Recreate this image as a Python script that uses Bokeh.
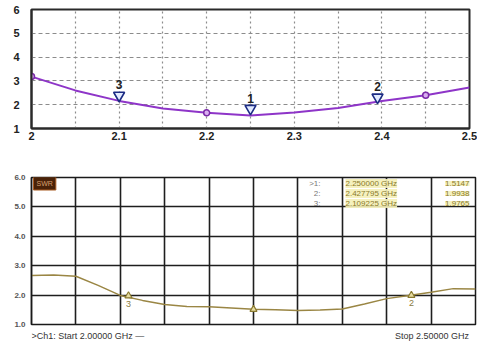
from bokeh.plotting import figure
from bokeh.layouts import column
from bokeh.models import Range1d, FixedTicker, Label, ColumnDataSource
from bokeh.core.properties import value
from bokeh.embed import file_html
from bokeh.resources import INLINE

# ---------------- top chart: simulated SWR ----------------
sim_freq = [2.00, 2.05, 2.10, 2.15, 2.20, 2.25, 2.30, 2.35, 2.40, 2.45, 2.50]
sim_swr = [3.18, 2.60, 2.16, 1.84, 1.66, 1.55, 1.67, 1.86, 2.16, 2.40, 2.72]
sim_dot_freq = [2.00, 2.20, 2.45]
sim_dot_swr = [3.18, 1.66, 2.40]
sim_mk_id = ["1", "2", "3"]
sim_mk_freq = [2.25, 2.395, 2.10]
sim_mk_swr = [1.84, 2.31, 2.39]
top_xticks = [2.0, 2.1, 2.2, 2.3, 2.4, 2.5]
top_xtick_labels = ["2", "2.1", "2.2", "2.3", "2.4", "2.5"]
top_xgrid = [2.05, 2.10, 2.15, 2.20, 2.25, 2.30, 2.35, 2.40, 2.45]
top_yticks = [1, 2, 3, 4, 5, 6]

# ---------------- bottom chart: measured SWR ----------------
meas_freq = [2.000, 2.025, 2.050, 2.075, 2.100, 2.125, 2.150, 2.175, 2.200, 2.225,
             2.250, 2.275, 2.300, 2.325, 2.350, 2.375, 2.400, 2.425, 2.450, 2.475, 2.500]
meas_swr = [2.67, 2.68, 2.64, 2.33, 1.99, 1.82, 1.68, 1.61, 1.60, 1.56,
            1.52, 1.50, 1.48, 1.49, 1.53, 1.70, 1.88, 1.99, 2.10, 2.22, 2.21]
mk_id = ["1", "2", "3"]
mk_freq = [2.250000, 2.427795, 2.109225]
mk_swr = [1.5147, 1.9938, 1.9765]
mk_under = ["", "2", "3"]
bot_xgrid = [2.05, 2.10, 2.15, 2.20, 2.25, 2.30, 2.35, 2.40, 2.45]
bot_yticks = [1.0, 2.0, 3.0, 4.0, 5.0, 6.0]
bot_ytick_labels = ["1.0", "2.0", "3.0", "4.0", "5.0", "6.0"]
start_text = ">Ch1: Start  2.00000 GHz \u2014"
stop_text = "Stop  2.50000 GHz"
trace_tag = "SWR"

FONT = "Liberation Sans"
W = 477
LEFT = 31

# ---------- top figure ----------
p1 = figure(width=W, height=164, x_range=Range1d(2.0, 2.5), y_range=Range1d(1, 6),
            output_backend="svg", toolbar_location=None,
            min_border_left=LEFT, min_border_right=8, min_border_top=9, min_border_bottom=36)
p1.background_fill_color = "white"
p1.border_fill_color = "white"
p1.outline_line_color = "#2a2a2a"
p1.outline_line_width = 2

p1.xaxis.ticker = FixedTicker(ticks=top_xticks)
p1.xaxis.major_label_overrides = {t: l for t, l in zip(top_xticks, top_xtick_labels)}
p1.yaxis.ticker = FixedTicker(ticks=top_yticks)
for ax in (p1.xaxis, p1.yaxis):
    ax.major_tick_line_color = None
    ax.minor_tick_line_color = None
    ax.major_tick_out = 0
    ax.major_tick_in = 0
    ax.axis_line_color = "#2a2a2a"
    ax.axis_line_width = 2
    ax.major_label_text_font = FONT
    ax.major_label_text_font_style = "bold"
    ax.major_label_text_font_size = "11px"
    ax.major_label_text_color = "#222222"
p1.xaxis.major_label_standoff = 3
p1.yaxis.major_label_standoff = 12

p1.xgrid.ticker = FixedTicker(ticks=top_xgrid)
p1.xgrid.grid_line_color = "#8c8c8c"
p1.xgrid.grid_line_dash = "2 3"
p1.xgrid.grid_line_width = 1.2
p1.ygrid.ticker = FixedTicker(ticks=top_yticks[1:-1])
p1.ygrid.grid_line_color = "#8c8c8c"
p1.ygrid.grid_line_dash = "4 3"
p1.ygrid.grid_line_width = 1.2

p1.line(sim_freq, sim_swr, line_color="#8e35c8", line_width=2)
p1.scatter(sim_dot_freq, sim_dot_swr, marker="circle", size=6,
           line_color="#7a2aa8", fill_color="#d9aef0", line_width=1.5)
src_top_mk = ColumnDataSource(dict(x=sim_mk_freq, y=sim_mk_swr, t=sim_mk_id))
p1.scatter("x", "y", source=src_top_mk, marker="inverted_triangle", size=11,
           line_color="#1c2c84", fill_color="#e2ebff", line_width=1.6)
p1.text("x", "y", text="t", source=src_top_mk, text_font=value(FONT),
        text_font_style="bold", text_font_size="12px", text_color="#222222",
        text_align="center", text_baseline="bottom", y_offset=-6)

# ---------- bottom figure ----------
p2 = figure(width=W, height=165, x_range=Range1d(2.0, 2.5), y_range=Range1d(1, 6),
            output_backend="svg", toolbar_location=None,
            min_border_left=LEFT, min_border_right=2, min_border_top=13, min_border_bottom=5)
p2.background_fill_color = "white"
p2.border_fill_color = "white"
p2.outline_line_color = "#1a1a1a"
p2.outline_line_width = 1.5

p2.xaxis.visible = False
p2.yaxis.ticker = FixedTicker(ticks=bot_yticks)
p2.yaxis.major_label_overrides = {t: l for t, l in zip(bot_yticks, bot_ytick_labels)}
p2.yaxis.major_tick_line_color = None
p2.yaxis.minor_tick_line_color = None
p2.yaxis.major_tick_out = 0
p2.yaxis.major_tick_in = 0
p2.yaxis.axis_line_color = "#1a1a1a"
p2.yaxis.axis_line_width = 1.5
p2.yaxis.major_label_text_font = FONT
p2.yaxis.major_label_text_font_size = "8px"
p2.yaxis.major_label_text_font_style = "bold"
p2.yaxis.major_label_text_color = "#555555"
p2.yaxis.major_label_standoff = 6

p2.xgrid.ticker = FixedTicker(ticks=bot_xgrid)
p2.xgrid.grid_line_color = "#1e1e1e"
p2.xgrid.grid_line_width = 1.6
p2.ygrid.ticker = FixedTicker(ticks=bot_yticks[1:-1])
p2.ygrid.grid_line_color = "#1e1e1e"
p2.ygrid.grid_line_width = 1.6

p2.line(meas_freq, meas_swr, line_color="#9a8644", line_width=1.5)
src_mk = ColumnDataSource(dict(x=mk_freq, y=mk_swr, u=mk_under))
p2.scatter("x", "y", source=src_mk, marker="triangle", size=7,
           line_color="#8a7a30", fill_color="#e6dca0", line_width=1.2)
p2.text("x", "y", text="u", source=src_mk, text_font=value(FONT),
        text_font_size="9px", text_color="#8a7a40", text_align="center",
        text_baseline="top", y_offset=5)

# marker readout table (screen units measured from the frame's bottom-left)
row_y = [141, 131, 121]
for i, (mid, f, v) in enumerate(zip(mk_id, mk_freq, mk_swr)):
    idx = (">" if i == 0 else "") + mid + ":"
    p2.add_layout(Label(x=289, y=row_y[i], x_units="screen", y_units="screen",
                        text=idx, text_font=FONT, text_font_size="8px",
                        text_color="#777777", text_align="right", text_baseline="middle"))
    p2.add_layout(Label(x=314, y=row_y[i], x_units="screen", y_units="screen",
                        text=f"{f:.6f} GHz", text_font=FONT, text_font_size="8px",
                        text_color="#8a7a2a", text_align="left", text_baseline="middle",
                        background_fill_color="#f4efb8", background_fill_alpha=0.9))
    p2.add_layout(Label(x=438, y=row_y[i], x_units="screen", y_units="screen",
                        text=f"{v:.4f}", text_font=FONT, text_font_size="8px",
                        text_color="#8a7a2a", text_align="right", text_baseline="middle",
                        background_fill_color="#f4efb8", background_fill_alpha=0.9))

# trace tag box
p2.add_layout(Label(x=2, y=141, x_units="screen", y_units="screen", text=trace_tag,
                    text_font=FONT, text_font_size="7px", text_color="#d8a070",
                    text_align="left", text_baseline="middle",
                    background_fill_color="#4a2208", border_line_color="#a85a20",
                    padding=3))

# ---------- footer strip (start / stop) ----------
p3 = figure(width=W, height=12, x_range=Range1d(0, 1), y_range=Range1d(0, 1),
            output_backend="svg", toolbar_location=None,
            min_border_left=LEFT, min_border_right=2, min_border_top=0, min_border_bottom=0)
p3.axis.visible = False
p3.grid.visible = False
p3.outline_line_color = None
p3.border_fill_color = "white"
p3.add_layout(Label(x=0, y=6, x_units="screen", y_units="screen", text=start_text,
                    text_font=FONT, text_font_size="9px", text_color="#333333",
                    text_align="left", text_baseline="middle"))
p3.add_layout(Label(x=440, y=6, x_units="screen", y_units="screen", text=stop_text,
                    text_font=FONT, text_font_size="9px", text_color="#333333",
                    text_align="right", text_baseline="middle"))

layout = column(p1, column(p2, p3, spacing=0), spacing=0)
open("out.html", "w").write(file_html(layout, INLINE))
